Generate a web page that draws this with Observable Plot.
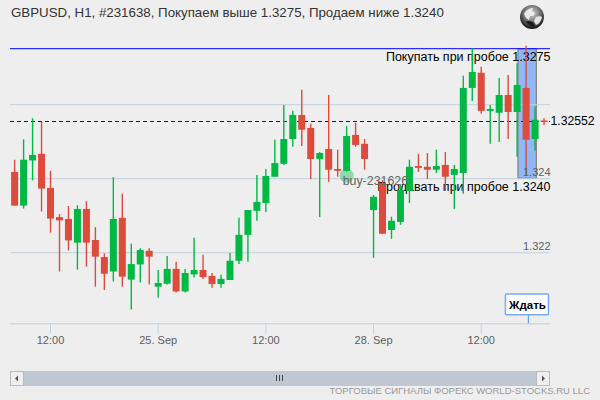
<!DOCTYPE html>
<html><head><meta charset="utf-8">
<script src="https://cdn.jsdelivr.net/npm/d3@7"></script>
<script src="https://cdn.jsdelivr.net/npm/@observablehq/plot@0.6"></script>
<style>html,body{margin:0;padding:0;background:#eeeeee}svg{display:block}</style>
</head><body><div id="chart"></div>
<script>
const opens=[1.32417,1.32326,1.32448,1.32466,1.32374,1.32295,1.32290,1.32226,1.32317,1.32233,
1.32187,1.32148,1.32293,1.32126,1.32167,1.32204,1.32107,1.32115,1.32155,1.32094,
1.32140,1.32152,1.32136,1.32114,1.32125,1.32177,1.32247,1.32312,1.32333,1.32404,
1.32439,1.32506,1.32571,1.32536,1.32452,1.32479,1.32425,1.32420,1.32517,1.32493,
1.32314,1.32387,1.32260,1.32282,1.32366,1.32433,1.32431,1.32423,1.32436,1.32409,
1.32414,1.32644,1.32685,1.32582,1.32577,1.32625,1.32579,1.32644,1.32506,1.32556];
const closes=[1.32326,1.32450,1.32463,1.32372,1.32291,1.32286,1.32232,1.32317,1.32226,1.32188,
1.32142,1.32290,1.32134,1.32168,1.32206,1.32188,1.32117,1.32155,1.32094,1.32144,
1.32152,1.32133,1.32114,1.32128,1.32177,1.32247,1.32314,1.32336,1.32406,1.32441,
1.32506,1.32571,1.32531,1.32452,1.32468,1.32423,1.32420,1.32514,1.32490,1.32452,
1.32350,1.32250,1.32285,1.32368,1.32431,1.32428,1.32423,1.32433,1.32404,1.32425,
1.32644,1.32687,1.32582,1.32587,1.32625,1.32579,1.32652,1.32504,1.32558,1.32552];
const highs=[1.32450,1.32505,1.32562,1.32553,1.32420,1.32303,1.32325,1.32327,1.32338,1.32268,
1.32197,1.32403,1.32358,1.32223,1.32211,1.32211,1.32152,1.32190,1.32174,1.32155,
1.32239,1.32193,1.32144,1.32139,1.32198,1.32293,1.32314,1.32409,1.32425,1.32504,
1.32598,1.32582,1.32639,1.32547,1.32471,1.32625,1.32477,1.32541,1.32550,1.32506,
1.32355,1.32395,1.32296,1.32382,1.32450,1.32466,1.32468,1.32477,1.32471,1.32436,
1.32677,1.32751,1.32701,1.32598,1.32671,1.32679,1.32711,1.32758,1.32593,1.32562];
const lows=[1.32326,1.32318,1.32394,1.32310,1.32253,1.32148,1.32205,1.32153,1.32161,1.32107,
1.32098,1.32121,1.32107,1.32045,1.32118,1.32113,1.32077,1.32113,1.32091,1.32091,
1.32132,1.32128,1.32104,1.32104,1.32125,1.32168,1.32174,1.32285,1.32309,1.32404,
1.32436,1.32485,1.32487,1.32398,1.32295,1.32390,1.32404,1.32418,1.32485,1.32423,
1.32185,1.32250,1.32236,1.32274,1.32333,1.32417,1.32398,1.32414,1.32366,1.32317,
1.32358,1.32609,1.32574,1.32493,1.32498,1.32506,1.32458,1.32409,1.32474,1.32544];

const tickIndex=[4,16,28,40,52];
const tickLabels=["12:00","25. Sep","12:00","28. Sep","12:00"];
const gridLevels=[1.322,1.324,1.326];
const priceLabels=[1.322,1.324];
const buyLevel=1.3275, sellLevel=1.3240, lastPrice=1.32552;
const titleText="GBPUSD, H1, #231638, Покупаем выше 1.3275, Продаем ниже 1.3240";
const footerText="ТОРГОВЫЕ СИГНАЛЫ ФОРЕКС WORLD-STOCKS.RU LLC";

const GREEN="#00b843",RED="#dd4b3c",GRID="#c0d0e0",FONT="'Liberation Sans',sans-serif";
const candles=opens.map((o,i)=>({i,o,c:closes[i],h:highs[i],l:lows[i],color:closes[i]>=o?GREEN:RED}));

const plot=Plot.plot({
  width:600,height:400,
  marginLeft:10,marginRight:50,marginTop:45,marginBottom:76.7,
  style:{background:"#eeeeee",fontFamily:FONT,overflow:"visible"},
  x:{type:"linear",domain:[-0.46,59.72],range:[10,550]},
  y:{type:"linear",domain:[1.32008,1.3276],axis:null},
  marks:[
    Plot.rect([{a:56.15,b:58.2,top:buyLevel,bot:sellLevel}],{x1:"a",x2:"b",y1:"bot",y2:"top",fill:"#90b8f6",stroke:"#888888",strokeWidth:1.3}),
    Plot.ruleY(gridLevels,{stroke:GRID,strokeWidth:1}),
    Plot.ruleY([1.32008],{stroke:GRID,strokeWidth:1}),
    Plot.ruleY([buyLevel],{stroke:"#0000ff",strokeWidth:1,dy:-0.5}),
    Plot.ruleY([lastPrice],{stroke:"#0000cc",strokeWidth:1,strokeDasharray:"4,3",dy:-1}),
    Plot.axisX({ticks:tickIndex,tickFormat:d=>tickLabels[tickIndex.indexOf(d)],tickSize:10,tickPadding:2,stroke:GRID,fill:"#606060",fontSize:11,label:null,anchor:"bottom"}),
    Plot.text([{p:buyLevel}],{y:"p",frameAnchor:"right",text:()=>"Покупать при пробое 1.3275",textAnchor:"end",dy:8,fontSize:12.5,fill:"#000"}),
    Plot.text([{p:sellLevel}],{y:"p",frameAnchor:"right",text:()=>"Продавать при пробое 1.3240",textAnchor:"end",dy:8,fontSize:12.5,fill:"#000"}),
    Plot.ruleX(candles,{x:"i",y1:"l",y2:"h",stroke:"color",strokeWidth:1.4}),
    Plot.ruleX(candles,{x:"i",y1:d=>Math.min(d.o,d.c),y2:d=>Math.max(d.o,d.c),stroke:"color",strokeWidth:7}),
    Plot.dot([{i:37,p:1.32408}],{x:"i",y:"p",r:7,fill:GREEN,fillOpacity:0.4}),
    Plot.text([{i:37,p:1.32408}],{x:"i",y:"p",text:()=>"buy-231626",textAnchor:"start",dx:-4,dy:5,fontSize:12.4,fill:"#666666"}),
    Plot.text(priceLabels,{y:d=>d,frameAnchor:"right",text:d=>String(d),textAnchor:"end",dy:-6,fontSize:11,fill:"#606060"}),
    Plot.text([lastPrice],{y:d=>d,frameAnchor:"right",text:d=>String(d),textAnchor:"start",dx:0,dy:-1,fontSize:12.2,fill:"#000"}),
    // flag
    Plot.ruleX([57.25],{y1:1.32008,y2:1.32031,stroke:"#4d90fe",strokeWidth:1}),
    Plot.rect([{a:54.75,b:59.55,top:1.32087,bot:1.32031}],{x1:"a",x2:"b",y1:"bot",y2:"top",fill:"#fff",stroke:"#79a9f5",strokeWidth:1.5,rx:1}),
    Plot.text([{i:57.15,p:1.32059}],{x:"i",y:"p",text:()=>"Ждать",fontSize:11.5,fontWeight:"bold",fill:"#000"})
  ]
});
document.getElementById("chart").appendChild(plot);

const svg=d3.select(plot);
svg.append("text").attr("x",11).attr("y",17).attr("text-anchor","start").attr("font-size",13.3).attr("fill","#333333").attr("font-family",FONT).text(titleText);
svg.append("text").attr("x",590).attr("y",394).attr("text-anchor","end").attr("font-size",9.5).attr("fill","#999999").attr("font-family",FONT).text(footerText);

// scrollbar
const sb=svg.append("g");
sb.append("rect").attr("x",10).attr("y",371).attr("width",540).attr("height",15).attr("fill","#bfc7d2");
for(const x of [10,536]){
  sb.append("rect").attr("x",x+.5).attr("y",371.5).attr("width",13).attr("height",14).attr("fill","#eeeeee").attr("stroke","#bbbbbb");
}
sb.append("path").attr("d","M15 378.5l3-3v6z").attr("fill","#555");
sb.append("path").attr("d","M545 378.5l-3-3v6z").attr("fill","#555");
for(const x of [276.5,279.5,282.5]) sb.append("line").attr("x1",x).attr("x2",x).attr("y1",375).attr("y2",381).attr("stroke","#444");

// globe icon
const defs=svg.append("defs");
const g=defs.append("radialGradient").attr("id","globe").attr("cx","50%").attr("cy","35%").attr("r","65%");
g.append("stop").attr("offset","0%").attr("stop-color","#d8d8d8");
g.append("stop").attr("offset","55%").attr("stop-color","#707070");
g.append("stop").attr("offset","100%").attr("stop-color","#111111");
const ic=svg.append("g");
ic.append("circle").attr("cx",532).attr("cy",17).attr("r",12).attr("fill","url(#globe)");
ic.append("path").attr("d","M524 14c2-4 6-6 9-6l-1 3 3 2-2 3-3 0-1 4-3-2z M536 17c2-1 5-1 6 0-1 4-3 7-6 8l-2-4z").attr("fill","#f2f2f2").attr("opacity",0.9);
ic.append("path").attr("d","M526 21c2 4 5 6 9 6l-2-5-4-1z").attr("fill","#1a1a1a");
</script></body></html>
